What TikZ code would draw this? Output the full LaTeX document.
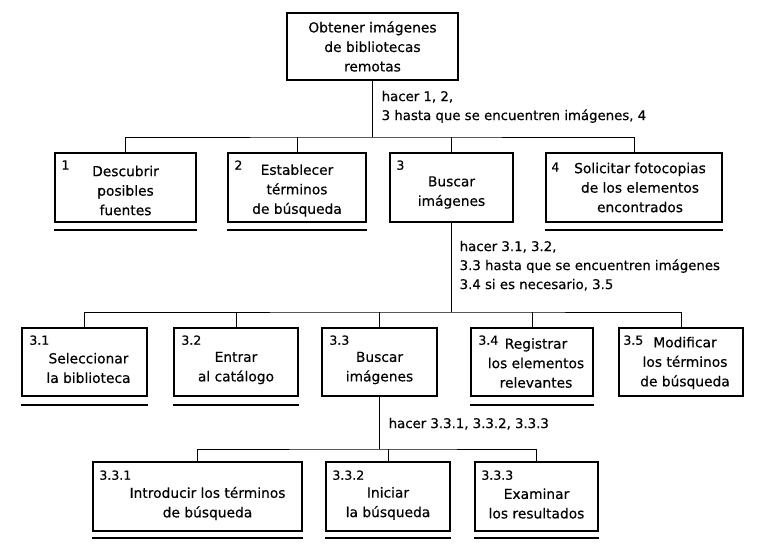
\documentclass[tikz,border=0pt]{standalone}
\usepackage{fontspec}
\setmainfont[FakeBold=0.4]{DejaVu Sans}
\usetikzlibrary{positioning}
\tikzset{
  task/.style={draw,line width=1.5pt,inner sep=0pt},
  txt/.style={align=center,inner sep=0pt,font=\fontsize{13.8}{19.5}\selectfont},
  num/.style={anchor=north west,inner sep=0pt,font=\fontsize{12.5}{14}\selectfont},
  note/.style={anchor=north west,align=left,inner sep=0pt,font=\fontsize{13.3}{19}\selectfont},
  conn/.style={line width=0.8pt},
  under/.style={line width=1.5pt},
}

\begin{document}
\begin{tikzpicture}[x=1pt,y=-1pt]
  \useasboundingbox (0,0) rectangle (764,554);
  % top task
  \node[task,minimum width=171,minimum height=67] (top) at (372.5,46.5){};
  \node[txt] (topt) at (top.center){Obtener imágenes\\de bibliotecas\\remotas};
  % level 1
  \node[task,minimum width=141,minimum height=69] (b1) at (125.5,187.5){};
  \node[task,minimum width=138,minimum height=69] (b2) at (297,187.5){};
  \node[task,minimum width=123,minimum height=69] (b3) at (451.5,187.5){};
  \node[task,minimum width=176,minimum height=69] (b4) at (634,187.5){};
  \node[txt] (b1t) at ([yshift=-3]b1.center){Descubrir\\posibles\\fuentes};
  \node[txt] (b2t) at ([yshift=-3]b2.center){Establecer\\términos\\de búsqueda};
  \node[txt] (b3t) at ([yshift=-5]b3.center){Buscar\\imágenes};
  \node[txt] (b4t) at ([xshift=6]b4.center){Solicitar fotocopias\\de los elementos\\encontrados};
  \node[num] (b1n) at ([xshift=7,yshift=-8]b1.north west){1};
  \node[num] (b2n) at ([xshift=7,yshift=-8]b2.north west){2};
  \node[num] (b3n) at ([xshift=7,yshift=-8]b3.north west){3};
  \node[num] (b4n) at ([xshift=6,yshift=-10]b4.north west){4};
  \draw[under] ([yshift=-7]b1.south west) -- ([yshift=-7]b1.south east);
  \draw[under] ([yshift=-7]b2.south west) -- ([yshift=-7]b2.south east);
  \draw[under] ([yshift=-7]b4.south west) -- ([yshift=-7]b4.south east);
  \coordinate (j0) at (372.5,137);
  \draw[conn] (top.south) -- (j0);
  \draw[conn] (b1.north) |- (j0) -| (b4.north);
  \draw[conn] (b2.north) -- (b2.north |- j0);
  \draw[conn] (b3.north) -- (b3.north |- j0);
  \node[note] (n0) at ([xshift=9,yshift=-10]top.south){hacer 1, 2,\\3 hasta que se encuentren imágenes, 4};
  % level 2
  \node[task,minimum width=125,minimum height=68] (b31) at (84.5,362){};
  \node[task,minimum width=124,minimum height=68] (b32) at (236,362){};
  \node[task,minimum width=115,minimum height=68] (b33) at (379.5,362){};
  \node[task,minimum width=122,minimum height=68] (b34) at (532,362){};
  \node[task,minimum width=124,minimum height=68] (b35) at (681,362){};
  \node[txt] (b31t) at ([xshift=4,yshift=-6]b31.center){Seleccionar\\la biblioteca};
  \node[txt] (b32t) at ([yshift=-6]b32.center){Entrar\\al catálogo};
  \node[txt] (b33t) at ([yshift=-6]b33.center){Buscar\\imágenes};
  \node[txt] (b34t) at ([xshift=4,yshift=-1]b34.center){Registrar\\los elementos\\relevantes};
  \node[txt] (b35t) at ([xshift=4,yshift=-1]b35.center){Modificar\\los términos\\de búsqueda};
  \node[num] (b31n) at ([xshift=8,yshift=-8]b31.north west){3.1};
  \node[num] (b32n) at ([xshift=8,yshift=-8]b32.north west){3.2};
  \node[num] (b33n) at ([xshift=8,yshift=-8]b33.north west){3.3};
  \node[num] (b34n) at ([xshift=8,yshift=-8]b34.north west){3.4};
  \node[num] (b35n) at ([xshift=5,yshift=-8]b35.north west){3.5};
  \draw[under] ([yshift=-8]b31.south west) -- ([yshift=-8]b31.south east);
  \draw[under] ([yshift=-8]b32.south west) -- ([yshift=-8]b32.south east);
  \draw[under] ([yshift=-8]b34.south west) -- ([yshift=-8]b34.south east);
  \coordinate (j1) at (451.5,312);
  \draw[conn] (b3.south) -- (j1);
  \draw[conn] (b31.north) |- (j1) -| (b35.north);
  \draw[conn] (b32.north) -- (b32.north |- j1);
  \draw[conn] (b33.north) -- (b33.north |- j1);
  \draw[conn] (b34.north) -- (b34.north |- j1);
  \node[note] (n1) at ([xshift=8,yshift=-18]b3.south){hacer 3.1, 3.2,\\3.3 hasta que se encuentren imágenes\\3.4 si es necesario, 3.5};
  % level 3
  \node[task,minimum width=209,minimum height=69] (b331) at (197.5,496.5){};
  \node[task,minimum width=124,minimum height=69] (b332) at (388,496.5){};
  \node[task,minimum width=123,minimum height=69] (b333) at (536.5,496.5){};
  \node[txt] (b331t) at ([xshift=10,yshift=-7]b331.center){Introducir los términos\\de búsqueda};
  \node[txt] (b332t) at ([yshift=-7]b332.center){Iniciar\\la búsqueda};
  \node[txt] (b333t) at ([yshift=-7]b333.center){Examinar\\los resultados};
  \node[num] (b331n) at ([xshift=7,yshift=-9]b331.north west){3.3.1};
  \node[num] (b332n) at ([xshift=7,yshift=-9]b332.north west){3.3.2};
  \node[num] (b333n) at ([xshift=7,yshift=-9]b333.north west){3.3.3};
  \draw[under] ([yshift=-6]b331.south west) -- ([yshift=-6]b331.south east);
  \draw[under] ([yshift=-6]b332.south west) -- ([yshift=-6]b332.south east);
  \draw[under] ([yshift=-6]b333.south west) -- ([yshift=-6]b333.south east);
  \coordinate (j2) at (379.5,449);
  \draw[conn] (b33.south) -- (j2);
  \draw[conn] (b331.north) |- (j2) -| (b333.north);
  \draw[conn] (b332.north) -- (b332.north |- j2);
  \node[note] (n2) at ([xshift=9,yshift=-21]b33.south){hacer 3.3.1, 3.3.2, 3.3.3};
\end{tikzpicture}
\end{document}
